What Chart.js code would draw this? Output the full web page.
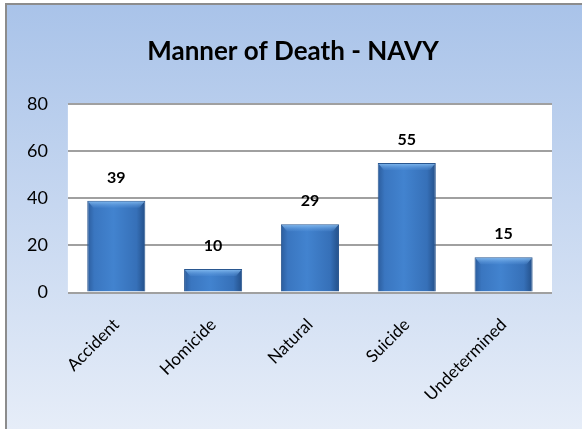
<!DOCTYPE html>
<html>
<head>
<meta charset="utf-8">
<script src="https://cdn.jsdelivr.net/npm/chart.js@4"></script>
<style>
  html, body { margin: 0; padding: 0; background: #ffffff; }
  #wrap { position: relative; width: 582px; height: 429px; }
</style>
</head>
<body>
<div id="wrap"><canvas id="deathChart"></canvas></div>
<script>
const categories = ['Accident', 'Homicide', 'Natural', 'Suicide', 'Undetermined'];
const deaths = [39, 10, 29, 55, 15];
const yTicks = [0, 20, 40, 60, 80];
const chartTitle = 'Manner of Death - NAVY';

const FONT = 'Lato, "Open Sans", sans-serif';

// light blue panel with grey border, white plot area, title
const panelBg = {
  id: 'panelBg',
  beforeDraw(chart) {
    const { ctx, chartArea } = chart;
    const g = ctx.createLinearGradient(0, 4, 0, 429);
    g.addColorStop(0, '#a9c3e9');
    g.addColorStop(1, '#e6edf8');
    ctx.save();
    ctx.fillStyle = g;
    ctx.fillRect(6, 4, 590, 440);
    ctx.strokeStyle = '#8c8c8c';
    ctx.lineWidth = 2;
    ctx.strokeRect(6, 4, 590, 440);
    ctx.fillStyle = '#ffffff';
    ctx.fillRect(chartArea.left, chartArea.top, chartArea.right - chartArea.left, chartArea.bottom - chartArea.top);

    // title sits centred on the whole panel, not on the plot
    ctx.fillStyle = '#000000';
    ctx.font = 'bold 26px ' + FONT;
    ctx.textAlign = 'center';
    ctx.textBaseline = 'middle';
    ctx.fillText(chartTitle, 293, 52);
    ctx.restore();
  }
};

// value labels over the bars plus a light bevel on the bar tops
const barLabels = {
  id: 'barLabels',
  afterDatasetsDraw(chart) {
    const { ctx } = chart;
    const meta = chart.getDatasetMeta(0);
    ctx.save();
    meta.data.forEach((bar, i) => {
      const w = bar.width;
      const left = bar.x - w / 2;
      const g = ctx.createLinearGradient(0, bar.y, 0, bar.y + 7);
      g.addColorStop(0, 'rgba(140,195,245,0.95)');
      g.addColorStop(1, 'rgba(90,150,220,0.2)');
      ctx.fillStyle = g;
      ctx.beginPath();
      ctx.moveTo(left + 1, bar.y + 1);
      ctx.lineTo(left + w - 1, bar.y + 1);
      ctx.lineTo(left + w - 6, bar.y + 7);
      ctx.lineTo(left + 6, bar.y + 7);
      ctx.closePath();
      ctx.fill();

      ctx.fillStyle = '#000000';
      ctx.font = 'bold 16px ' + FONT;
      ctx.textAlign = 'center';
      ctx.textBaseline = 'middle';
      ctx.fillText(deaths[i], bar.x, bar.y - 23);
    });
    ctx.restore();
  }
};

function barFill(context) {
  const chart = context.chart;
  const x = chart.scales.x;
  if (!x || !x.width) return '#3a78c2';
  const cx = x.getPixelForValue(context.dataIndex);
  const half = (x.width / categories.length) * 0.6 / 2;
  if (!isFinite(cx) || !isFinite(half)) return '#3a78c2';
  const g = chart.ctx.createLinearGradient(cx - half, 0, cx + half, 0);
  g.addColorStop(0, '#2b5c9c');
  g.addColorStop(0.12, '#3a76c0');
  g.addColorStop(0.45, '#4283cf');
  g.addColorStop(0.85, '#3670b8');
  g.addColorStop(1, '#234f88');
  return g;
}

new Chart(document.getElementById('deathChart'), {
  type: 'bar',
  data: {
    labels: categories,
    datasets: [{
      label: 'Deaths',
      data: deaths,
      backgroundColor: barFill,
      borderColor: '#2a5790',
      borderWidth: 1,
      barPercentage: 0.6,
      categoryPercentage: 1.0
    }]
  },
  options: {
    responsive: true,
    maintainAspectRatio: false,
    animation: false,
    layout: { padding: { top: 104, right: 30, bottom: 10, left: 7 } },
    plugins: {
      legend: { display: false },
      tooltip: { enabled: false },
      title: { display: false }
    },
    scales: {
      x: {
        grid: { display: false },
        border: { display: false },
        ticks: {
          color: '#000000',
          font: { family: FONT, size: 17 },
          minRotation: 45,
          maxRotation: 45,
          padding: 14
        }
      },
      y: {
        min: 0,
        max: 80,
        afterBuildTicks(axis) { axis.ticks = yTicks.map(v => ({ value: v })); },
        grid: { color: '#a0a0a0', lineWidth: 2, drawTicks: false },
        border: { display: false },
        ticks: {
          color: '#000000',
          font: { family: FONT, size: 18 },
          padding: 20
        }
      }
    }
  },
  plugins: [panelBg, barLabels]
});
</script>
</body>
</html>
